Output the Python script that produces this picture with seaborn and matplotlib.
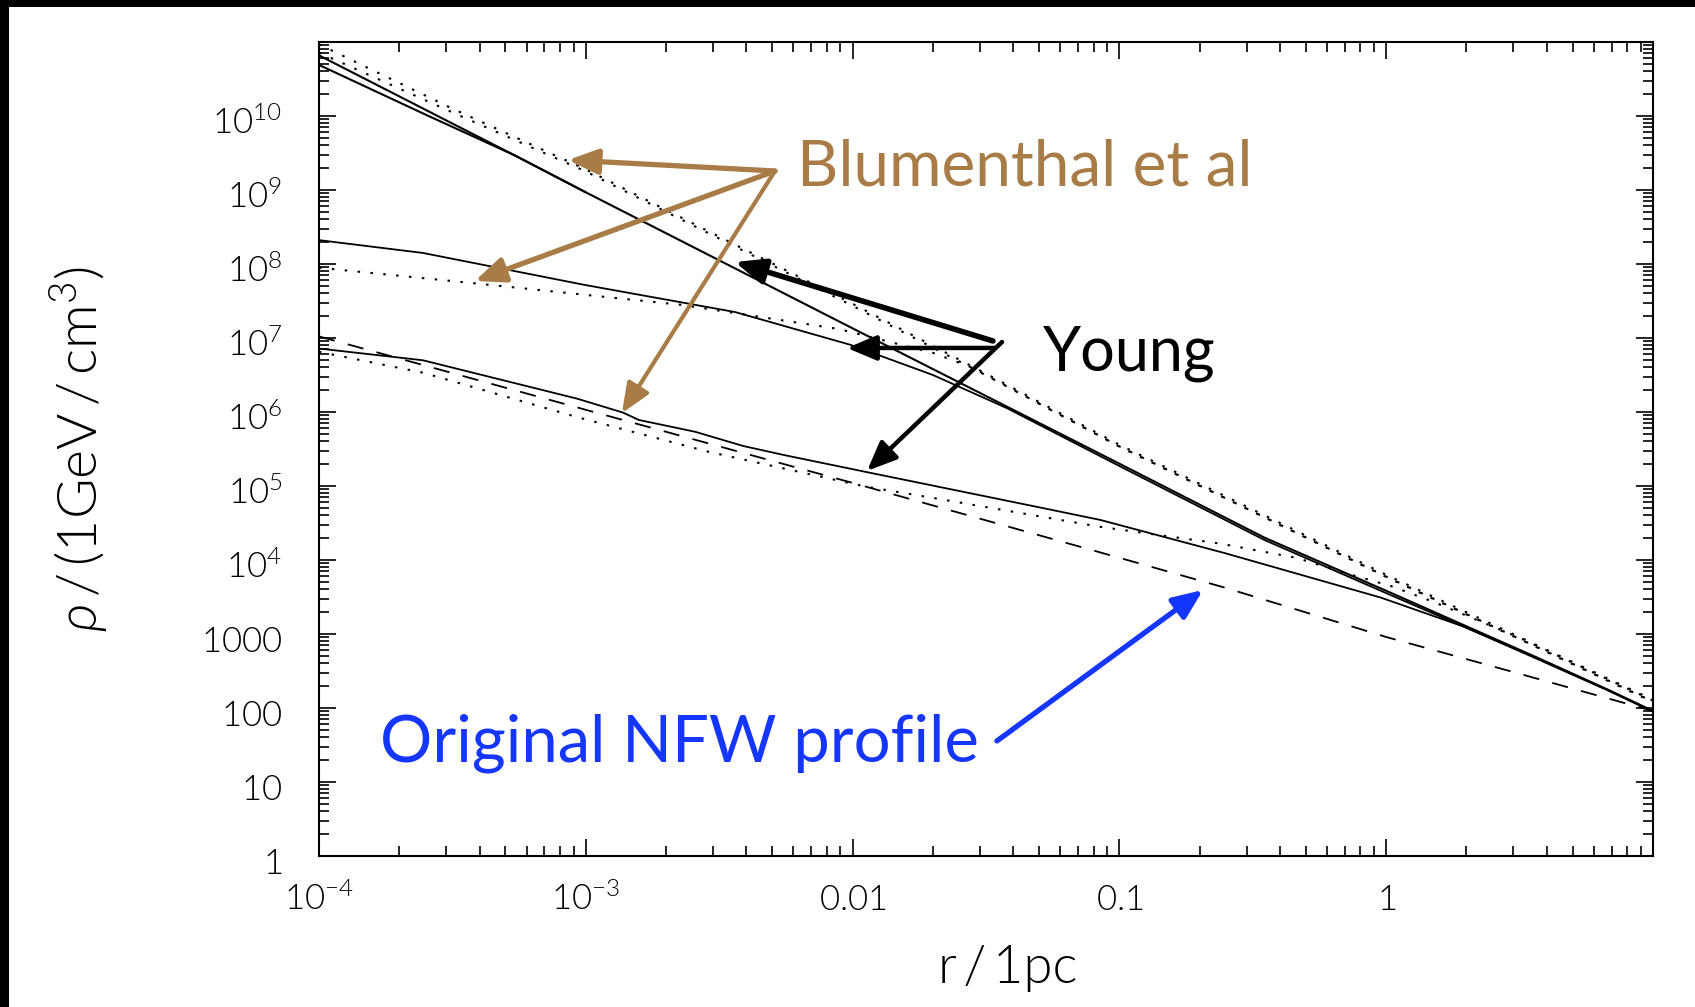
import numpy as np
import pandas as pd
import matplotlib
matplotlib.use("Agg")
import matplotlib.pyplot as plt
import matplotlib.ticker as mticker
import matplotlib.transforms as mtransforms
from matplotlib.patches import Rectangle
import seaborn as sns

# ---------------- data ----------------
# Young et al. profiles (solid)
r_young_a = [1e-4, 5.4e-4, 1e-3, 1e-2, 0.1, 0.35, 1.05, 1.95, 3.63, 6.84, 10]
rho_young_a = [6.6e10, 2.95e9, 9.3e8, 1.35e7, 2.0e5, 2.0e4, 3.55e3, 1.32e3, 490, 174, 91]

r_young_a2 = [1e-4, 2.5e-4, 5.4e-4, 1e-3]
rho_young_a2 = [4.9e10, 1.05e10, 2.95e9, 9.3e8]

r_young_b = [1e-4, 2.45e-4, 9.8e-4, 3.63e-3, 9.8e-3, 2.0e-2, 3.8e-2, 0.1, 0.35, 1.05, 1.95, 3.63, 6.84, 10]
rho_young_b = [2.1e8, 1.41e8, 5.25e7, 2.24e7, 8.1e6, 3.16e6, 1.12e6, 1.86e5, 1.86e4, 3.3e3, 1.26e3, 470, 170, 89]

r_young_c = [1e-4, 2.45e-4, 9.3e-4, 1.38e-3, 1.58e-3, 2.57e-3, 3.89e-3, 5.5e-3, 1.12e-2, 5.5e-2,
             8.5e-2, 0.25, 0.955, 1.95, 3.63, 6.84, 10]
rho_young_c = [7.2e6, 5.0e6, 1.51e6, 9.8e5, 7.8e5, 5.4e5, 3.47e5, 2.63e5, 1.55e5, 4.8e4,
               3.47e4, 1.23e4, 3.1e3, 1.26e3, 480, 172, 90]

# Blumenthal et al profiles (dotted)
r_blum_a = [1e-4, 3.16e-4, 1e-3, 3.16e-3, 1e-2, 3.16e-2, 0.1, 0.316, 1, 3.16, 10]
rho_blum_a = [9.3e10, 1.26e10, 1.9e9, 2.34e8, 2.9e7, 3.3e6, 3.6e5, 4.8e4, 6.3e3, 910, 129]

r_blum_a2 = [1e-4, 3.16e-4, 1e-3, 3.16e-3, 1e-2, 3.16e-2, 0.1, 0.316, 1, 3.16, 10]
rho_blum_a2 = [7.2e10, 1.12e10, 1.78e9, 2.21e8, 2.72e7, 3.13e6, 3.43e5, 4.52e4, 5.96e3, 861, 122]

r_blum_b = [1e-4, 3.8e-4, 2.29e-3, 8.9e-3, 2.0e-2, 2.8e-2, 0.1, 0.316, 1, 3.16, 10]
rho_blum_b = [8.9e7, 5.5e7, 2.8e7, 1.32e7, 6.3e6, 4.0e6, 3.4e5, 4.5e4, 5.9e3, 850, 120]

r_blum_c = [1e-4, 2.45e-4, 9.3e-4, 2.88e-3, 1.12e-2, 2.0e-2, 8.5e-2, 0.24, 0.46, 0.71, 1.05, 1.51, 3.16, 10]
rho_blum_c = [6.5e6, 3.4e6, 8.5e5, 2.9e5, 9.8e4, 6.9e4, 2.8e4, 1.66e4, 1.07e4, 6.6e3, 4.4e3, 2.7e3, 890, 126]

# Original NFW profile (dashed)
r_nfw = [1e-4, 1e-3, 1e-2, 0.1, 0.25, 1, 3.16, 10]
rho_nfw = [1.05e7, 1.07e6, 1.1e5, 1.07e4, 4.2e3, 910, 290, 91]

x_major = [1e-4, 1e-3, 1e-2, 1e-1, 1, 10]
x_labels = [r'$10^{-4}$', r'$10^{-3}$', r'$0.01$', r'$0.1$', r'$1$', '']
y_major = [1, 10, 100, 1e3, 1e4, 1e5, 1e6, 1e7, 1e8, 1e9, 1e10, 1e11]
y_labels = [r'$1$', r'$10$', r'$100$', r'$1000$', r'$10^{4}$', r'$10^{5}$', r'$10^{6}$',
            r'$10^{7}$', r'$10^{8}$', r'$10^{9}$', r'$10^{10}$', '']

BROWN = '#A97B47'
BLUE = '#1436FF'

# ---------------- style ----------------
sns.set_style("ticks")
plt.rcParams.update({
    'font.family': ['Lato', 'DejaVu Sans'],
    'font.weight': 300,
    'mathtext.fontset': 'custom',
    'mathtext.rm': 'Lato:weight=300',
    'mathtext.it': 'Lato:italic:weight=300',
    'mathtext.bf': 'Lato:bold',
    'mathtext.sf': 'Lato:weight=300',
    'mathtext.fallback': 'stixsans',
    'text.color': 'k', 'axes.labelcolor': 'k',
    'xtick.color': 'k', 'ytick.color': 'k', 'axes.edgecolor': 'k',
})

fig = plt.figure(figsize=(16.95, 10.07), dpi=100)
ax = fig.add_axes([0.1882, 0.1500, 0.7870, 0.8083])

DOT = (0, (1.2, 5.0))
DASH = (0, (9, 7.5))
curves = [
    (r_young_a, rho_young_a, '-', 1.5),
    (r_young_a2, rho_young_a2, '-', 1.5),
    (r_young_b, rho_young_b, '-', 1.3),
    (r_young_c, rho_young_c, '-', 1.3),
    (r_blum_a, rho_blum_a, DOT, 1.5),
    (r_blum_a2, rho_blum_a2, DOT, 1.5),
    (r_blum_b, rho_blum_b, DOT, 1.5),
    (r_blum_c, rho_blum_c, DOT, 1.5),
    (r_nfw, rho_nfw, DASH, 1.3),
]
for r, rho, ls, lw in curves:
    sns.lineplot(x=r, y=rho, ax=ax, color='k', linewidth=lw, linestyle=ls, sort=False)

ax.set_xscale('log')
ax.set_yscale('log')
ax.set_xlim(1e-4, 10)
ax.set_ylim(1, 1e11)

ax.xaxis.set_major_locator(mticker.FixedLocator(x_major))
ax.xaxis.set_major_formatter(mticker.FixedFormatter(x_labels))
ax.yaxis.set_major_locator(mticker.FixedLocator(y_major))
ax.yaxis.set_major_formatter(mticker.FixedFormatter(y_labels))
ax.xaxis.set_minor_locator(mticker.LogLocator(base=10, subs=np.arange(2, 10), numticks=100))
ax.yaxis.set_minor_locator(mticker.LogLocator(base=10, subs=np.arange(2, 10), numticks=100))
ax.xaxis.set_minor_formatter(mticker.NullFormatter())
ax.yaxis.set_minor_formatter(mticker.NullFormatter())

ax.tick_params(which='both', direction='in', top=True, right=True, width=1.2, colors='k')
ax.tick_params(which='major', length=12.5)
ax.tick_params(which='minor', length=7)
ax.tick_params(axis='x', which='major', pad=39, labelsize=25)
ax.tick_params(axis='y', which='major', pad=26.5, labelsize=25)
for s in ax.spines.values():
    s.set_linewidth(1.5)
    s.set_color('k')

for t in ax.xaxis.get_major_ticks():
    t.label1.set_verticalalignment('baseline')
yoff = mtransforms.ScaledTranslation(0, -18 / 100, fig.dpi_scale_trans)
for t in ax.yaxis.get_major_ticks():
    t.label1.set_verticalalignment('baseline')
    t.label1.set_transform(t.label1.get_transform() + yoff)

ax.set_xlabel('r\u2009/\u20091pc', fontsize=38, fontweight=300)
ax.set_ylabel('$\\rho$\u2009/\u2009(1GeV\u2009/\u2009cm$^3$)', fontsize=40, fontweight=300)
ax.xaxis.set_label_coords(0.516, -0.109)
ax.yaxis.set_label_coords(-0.156, 0.5)

# ---------------- annotations ----------------
ax.text(0.3583, 0.8231, 'Blumenthal et al', transform=ax.transAxes, color=BROWN,
        fontsize=46, fontweight='normal', family='Lato', va='baseline', ha='left')
ax.text(0.5427, 0.5958, 'Young', transform=ax.transAxes, color='k',
        fontsize=44, fontweight='normal', family='Lato', va='baseline', ha='left')
ax.text(0.0457, 0.1155, 'Original NFW profile', transform=ax.transAxes, color=BLUE,
        fontsize=47, fontweight='normal', family='Lato', va='baseline', ha='left')

arrows = [
    ((0.3418, 0.8415), (0.1867, 0.8550), BROWN, 3.8),
    ((0.3418, 0.8415), (0.1169, 0.7064), BROWN, 3.8),
    ((0.3418, 0.8415), (0.2271, 0.5442), BROWN, 3.0),
    ((0.5052, 0.6327), (0.3118, 0.7297), 'k', 4.0),
    ((0.5067, 0.6241), (0.3958, 0.6241), 'k', 3.2),
    ((0.5120, 0.6314), (0.4108, 0.4730), 'k', 3.2),
    ((0.5082, 0.1413), (0.6627, 0.3268), BLUE, 3.8),
]
for tail, tip, col, lw in arrows:
    ax.annotate('', xy=tip, xytext=tail, xycoords='axes fraction', textcoords='axes fraction',
                arrowprops=dict(arrowstyle='-|>,head_length=0.9,head_width=0.38',
                                mutation_scale=20, lw=lw, color=col,
                                shrinkA=0, shrinkB=0))

# black frame strips on top and left edges
fig.add_artist(Rectangle((0, 1 - 7 / 1007), 1, 7 / 1007, transform=fig.transFigure,
                         color='k', lw=0, zorder=10))
fig.add_artist(Rectangle((0, 0), 9 / 1695, 1, transform=fig.transFigure,
                         color='k', lw=0, zorder=10))

fig.savefig('out.png', dpi=100, facecolor='white')
